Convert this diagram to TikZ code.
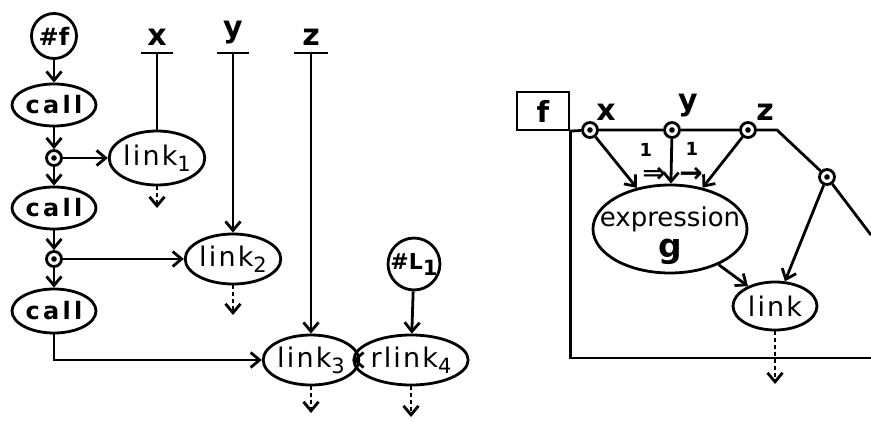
\documentclass[tikz,border=0pt]{standalone}
\usepackage{fontspec}
\setmainfont{DejaVu Sans}
\newfontfamily\callfont[LetterSpace=14]{DejaVu Sans}
\newfontfamily\linkfont[LetterSpace=8]{DejaVu Sans}
\usetikzlibrary{shapes.geometric,arrows.meta}
\begin{document}
\begin{tikzpicture}[x=1pt,y=-1pt,
  line width=2.8pt,
  >={Straight Barb[length=9pt,width=15pt]},
  ell/.style={ellipse,draw,inner sep=0pt},
  circ/.style={circle,draw,inner sep=0pt},
  dotnode/.style={circle,draw,minimum size=15pt,inner sep=0pt,
    path picture={\fill (path picture bounding box.center) circle (2.8pt);}},
  calltxt/.style={font=\callfont\bfseries\fontsize{24}{24}\selectfont},
  linktxt/.style={font=\linkfont\fontsize{27}{27}\selectfont},
  lab/.style={font=\bfseries\fontsize{30}{30}\selectfont,inner sep=0pt},
  dsh/.style={->,dash pattern=on 4pt off 3pt},
]
\useasboundingbox (0,0) rectangle (871,421);
\newcommand{\sbn}[1]{\raisebox{-6pt}{\fontsize{21}{21}\selectfont #1}}
% ---------- left diagram ----------
\node[circ,minimum size=45pt,font=\bfseries\fontsize{24}{24}\selectfont] (hf) at (54,36) {\#f};
\node[ell,calltxt,minimum width=84pt,minimum height=42pt] (call1) at (54,105) {call};
\node[dotnode] (d1) at (54,158) {};
\node[ell,calltxt,minimum width=84pt,minimum height=42pt] (call2) at (54,208) {call};
\node[dotnode] (d2) at (54,259) {};
\node[ell,calltxt,minimum width=84pt,minimum height=44pt] (call3) at (54,311) {call};

\node[ell,linktxt,minimum width=94pt,minimum height=54pt] (l1) at (157,158) {link\sbn{1}};
\node[ell,linktxt,minimum width=92pt,minimum height=50pt] (l2) at (233,259) {link\sbn{2}};
\node[ell,linktxt,minimum width=88pt,minimum height=50pt] (l3) at (311,360) {link\sbn{3}};
\node[ell,linktxt,minimum width=94pt,minimum height=50pt] (l4) at (411,360) {rlink\sbn{4}};
\node[circ,minimum size=45pt,font=\bfseries\fontsize{22}{22}\selectfont] (L1) at (414,264) {\#L\sbn{1}};

\node[lab] (lx) at (157,37) {x};
\node[lab] (ly) at (233,33) {y};
\node[lab] (lz) at (311,37) {z};
\coordinate (bx) at (157,53);
\coordinate (by) at (233,53);
\coordinate (bz) at (311,53);
\draw ([xshift=-16pt]bx) -- ([xshift=16pt]bx);
\draw ([xshift=-16pt]by) -- ([xshift=16pt]by);
\draw ([xshift=-17pt]bz) -- ([xshift=17pt]bz);

\draw[->] (hf) -- (call1);
\draw[->] (call1) -- (d1);
\draw[->] (d1) -- (call2);
\draw[->] (call2) -- (d2);
\draw[->] (d2) -- (call3);
\draw[->] (d1) -- (l1);
\draw[->] (d2) -- (l2);
\draw[->] (call3.south) |- (l3.west);
\draw (bx) -- (l1);
\draw[->] (by) -- (l2);
\draw[->] (bz) -- (l3);
\draw[->] (L1) -- (l4);
\draw[->] (l3) -- (l4);

\coordinate (e1) at (157,208);
\coordinate (e2) at (233,315);
\coordinate (e3) at (311,413);
\coordinate (e4) at (411,417);
\draw[dsh] (l1.south) -- (e1);
\draw[dsh] (l2.south) -- (e2);
\draw[dsh] (l3.south) -- (e3);
\draw[dsh] (l4.south) -- (e4);

% ---------- right diagram ----------
\node[draw,rectangle,minimum width=52pt,minimum height=38pt,inner sep=0pt,
  font=\bfseries\fontsize{29}{29}\selectfont,line width=2.2pt] (fb) at (543,111) {f};
\node[dotnode] (dx) at (590,130) {};
\node[dotnode] (dy) at (672,130) {};
\node[dotnode] (dz) at (748,130) {};
\coordinate (bend) at (777,130);
\node[dotnode] (dw) at (827,177) {};
\coordinate (rend) at (871,235);
\coordinate (br) at (871,358);
\node[lab] (rx) at (606,112) {x};
\node[lab] (ry) at (688,106) {y};
\node[lab] (rz) at (765,112) {z};

\draw (fb.south east) -- (dx) -- (dy) -- (dz) -- (bend) -- (dw) -- (rend);
\draw (fb.south east) |- (br);

\node[ell,minimum width=154pt,minimum height=88pt] (ex) at (670,229) {};
\node[inner sep=0pt,font=\fontsize{26}{26}\selectfont] (ext) at (670,219) {expression};
\node[inner sep=0pt,font=\bfseries\fontsize{33}{33}\selectfont] (gt) at (670,252) {g};
\node[ell,linktxt,minimum width=84pt,minimum height=48pt] (lk) at (775,306) {link};

\draw[->] (dx) -- (ex);
\draw[->] (dy) -- (ex);
\draw[->] (dz) -- (ex);
\draw[->] (ex) -- (lk);
\draw[->] (dw) -- (lk);
\coordinate (e5) at (775,384);
\draw[dsh] (lk.south) -- (e5);

\node[inner sep=0pt,font=\bfseries\fontsize{18}{18}\selectfont] (o1) at (646,150) {1};
\node[inner sep=0pt,font=\bfseries\fontsize{28}{28}\selectfont] (a1) at (654,175) {⇒};
\node[inner sep=0pt,font=\bfseries\fontsize{18}{18}\selectfont] (o2) at (692,149) {1};
\node[inner sep=0pt,font=\bfseries\fontsize{28}{28}\selectfont] (a2) at (691,175) {→};
\end{tikzpicture}
\end{document}
